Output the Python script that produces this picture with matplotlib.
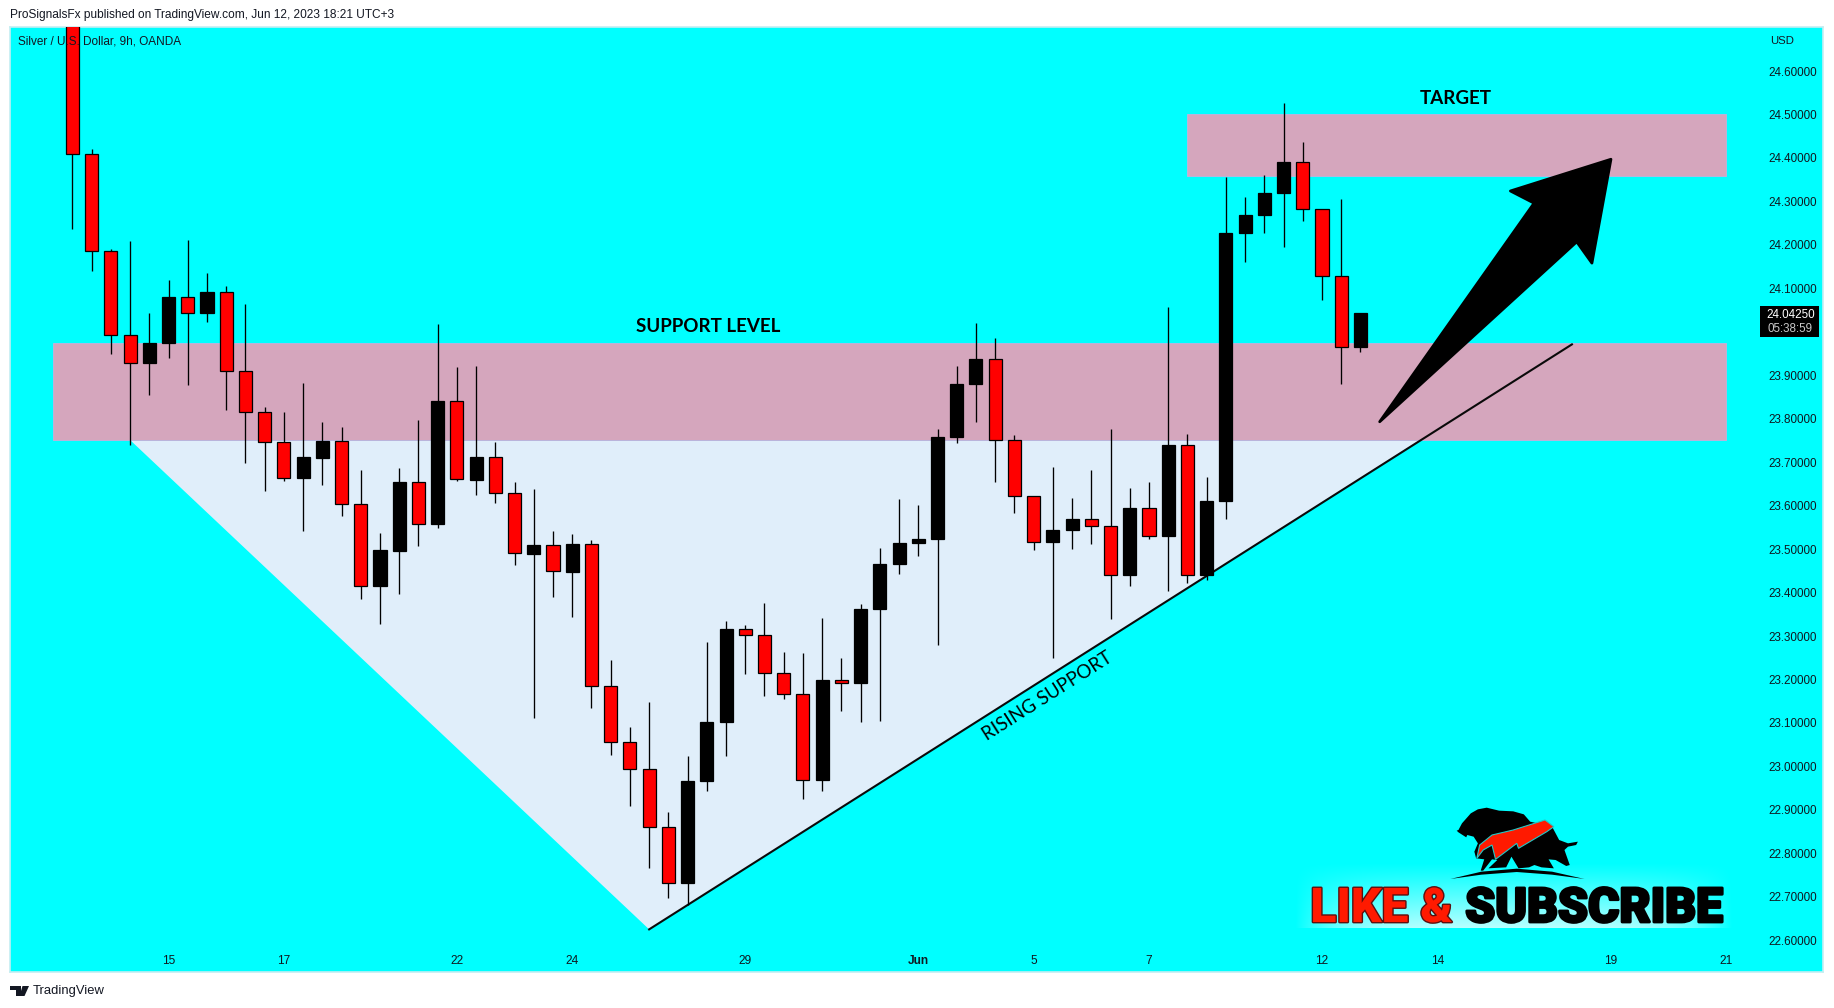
import numpy as np
import matplotlib
matplotlib.use('Agg')
import matplotlib.pyplot as plt
import matplotlib.patheffects as pe
from matplotlib.patches import Polygon, Rectangle

# candles (9h bars)
opens = [24.800, 24.410, 24.185, 23.992, 23.928, 23.974, 24.079, 24.043, 24.091, 23.909,
         23.815, 23.746, 23.664, 23.710, 23.748, 23.603, 23.414, 23.496, 23.654, 23.557,
         23.840, 23.660, 23.711, 23.630, 23.489, 23.509, 23.448, 23.511, 23.184, 23.057,
         22.993, 22.860, 22.731, 22.966, 23.102, 23.316, 23.302, 23.216, 23.166, 22.968,
         23.198, 23.191, 23.362, 23.466, 23.514, 23.523, 23.758, 23.880, 23.937, 23.750,
         23.622, 23.516, 23.543, 23.569, 23.554, 23.441, 23.594, 23.530, 23.739, 23.441,
         23.611, 24.227, 24.269, 24.319, 24.391, 24.282, 24.128, 23.966]
highs = [24.850, 24.420, 24.191, 24.208, 24.043, 24.119, 24.211, 24.135, 24.105, 24.064,
         23.827, 23.815, 23.882, 23.792, 23.781, 23.682, 23.537, 23.687, 23.797, 24.018,
         23.919, 23.921, 23.746, 23.654, 23.638, 23.542, 23.535, 23.520, 23.245, 23.091,
         23.148, 22.895, 23.024, 23.286, 23.335, 23.325, 23.376, 23.263, 23.261, 23.341,
         23.249, 23.374, 23.503, 23.615, 23.602, 23.776, 23.921, 24.020, 23.986, 23.763,
         23.622, 23.689, 23.618, 23.682, 23.776, 23.641, 23.654, 24.057, 23.765, 23.666,
         24.356, 24.310, 24.361, 24.527, 24.437, 24.282, 24.306, 24.043]
lows = [24.237, 24.141, 23.950, 23.740, 23.855, 23.940, 23.878, 24.023, 23.821, 23.699,
        23.634, 23.657, 23.542, 23.648, 23.577, 23.386, 23.328, 23.397, 23.506, 23.549,
        23.657, 23.625, 23.607, 23.464, 23.112, 23.390, 23.344, 23.135, 23.027, 22.910,
        22.767, 22.698, 22.681, 22.944, 23.025, 23.213, 23.163, 23.156, 22.926, 22.944,
        23.128, 23.101, 23.105, 23.443, 23.484, 23.280, 23.743, 23.793, 23.655, 23.584,
        23.499, 23.250, 23.501, 23.512, 23.340, 23.416, 23.524, 23.404, 23.423, 23.430,
        23.570, 24.161, 24.227, 24.196, 24.255, 24.074, 23.881, 23.954]
closes = [24.410, 24.185, 23.992, 23.928, 23.974, 24.079, 24.043, 24.091, 23.909, 23.815,
          23.746, 23.664, 23.711, 23.748, 23.603, 23.414, 23.498, 23.654, 23.557, 23.841,
          23.661, 23.711, 23.630, 23.490, 23.509, 23.449, 23.511, 23.184, 23.057, 22.993,
          22.860, 22.731, 22.966, 23.102, 23.316, 23.302, 23.216, 23.166, 22.968, 23.198,
          23.191, 23.362, 23.466, 23.514, 23.523, 23.758, 23.880, 23.937, 23.750, 23.622,
          23.516, 23.543, 23.569, 23.554, 23.441, 23.594, 23.530, 23.739, 23.441, 23.611,
          24.227, 24.269, 24.319, 24.391, 24.282, 24.128, 23.966, 24.0425]

# 24.00000 is hidden behind the last price tag
price_ticks = [22.6, 22.7, 22.8, 22.9, 23.0, 23.1, 23.2, 23.3, 23.4, 23.5,
               23.6, 23.7, 23.8, 23.9, 24.1, 24.2, 24.3, 24.4, 24.5, 24.6]
date_ticks = [5, 11, 20, 26, 35, 44, 50, 56, 65, 71, 80, 86]
date_labels = ['15', '17', '22', '24', '29', 'Jun', '5', '7', '12', '14', '19', '21']

support_zone = [-1, 86, 23.751, 23.974]
target_zone = [58, 86, 24.359, 24.500]
valley_x = [3, 30, 70.1]
valley_y = [23.751, 22.625, 23.751]
rising_x = [30, 78]
rising_y = [22.625, 23.971]
arrow_x = [68.0, 76.03, 74.8, 80.03, 79.04, 78.25]
arrow_y = [23.793, 24.296, 24.324, 24.397, 24.158, 24.207]

# logo outlines, in zoomed crop units
bull_x = [500, 505, 515, 540, 560, 585, 620, 660, 690, 708, 770, 790, 815, 843, 838, 815, 805, 820, 810, 780, 760,
          775, 740, 720, 705, 675, 655, 640, 590, 615, 600, 575, 568, 578, 555, 550, 560, 548, 530, 527, 505]
bull_y = [152, 150, 130, 100, 88, 83, 92, 94, 103, 125, 140, 180, 190, 185, 195, 200, 210, 255, 258, 240, 238,
          265, 262, 255, 262, 265, 230, 262, 265, 240, 238, 272, 272, 238, 235, 215, 190, 170, 165, 172, 157]
swoosh_x = [557, 565, 600, 660, 750, 775, 755, 675, 670, 610, 600, 575]
swoosh_y = [235, 195, 165, 150, 120, 140, 155, 205, 190, 238, 195, 210]
ground_x = [482, 570, 670, 770, 862, 770, 670, 570]
ground_y = [297, 275, 266, 275, 297, 284, 276, 284]

SMALL = ['Liberation Sans', 'DejaVu Sans']
LABEL = ['Lato', 'Liberation Sans']
W, H = 1834, 1008
L, R, T, B = 10, 1823, 27, 972

fig = plt.figure(figsize=(W / 100, H / 100), dpi=100, facecolor='white')
ax = fig.add_axes([L / W, 1 - B / H, (R - L) / W, (B - T) / H])
ax.set_facecolor('#00ffff')
ax.set_xlim(-3.246, 91.06)
ax.set_ylim(22.5269, 24.7013)
for s in ax.spines.values():
    s.set_color('#c4eef2')
    s.set_linewidth(1.2)

ax.add_patch(Polygon(np.column_stack([valley_x, valley_y]), fc='#e0eefa', ec='none', zorder=1))
for z in (support_zone, target_zone):
    ax.add_patch(Rectangle((z[0], z[2]), z[1] - z[0], z[3] - z[2], fc='#d5a6bd', ec='#b9b4dc', lw=0.7, zorder=2))
ax.plot(rising_x, rising_y, color='#0a0a0a', lw=1.5, zorder=3)

x = np.arange(len(opens))
o = np.array(opens)
c = np.array(closes)
colors = ['black' if cl > op else '#ff0000' for op, cl in zip(o, c)]
ax.vlines(x, lows, highs, color='black', lw=0.95, zorder=4)
ax.bar(x, np.abs(c - o), bottom=np.minimum(o, c), width=0.68, color=colors, edgecolor='black', lw=0.9, zorder=5)

ax.add_patch(Polygon(np.column_stack([arrow_x, arrow_y]), fc='black', ec='black', lw=2, joinstyle='round', zorder=6))

ax.yaxis.tick_right()
ax.set_yticks(price_ticks)
ax.set_yticklabels([f'{p:.5f}' for p in price_ticks], fontsize=8.4, family=SMALL, color='#101820')
ax.tick_params(axis='y', length=0, pad=-39.6)
ax.set_xticks(date_ticks)
ax.set_xticklabels(date_labels, fontsize=8.6, family=SMALL, color='#101820')
ax.tick_params(axis='x', length=0, pad=-12.5)
ax.xaxis.get_ticklabels()[5].set_fontweight('bold')

ax.text(33.06, 24.012, 'SUPPORT LEVEL', fontsize=13.5, weight='bold', family=LABEL, ha='center', va='center', zorder=7)
ax.text(71.97, 24.5376, 'TARGET', fontsize=13.5, weight='bold', family=LABEL, ha='center', va='center', zorder=7)
ax.text(50.7, 23.162, 'RISING SUPPORT', fontsize=13.5, family=LABEL, rotation=32.4, rotation_mode='anchor',
        ha='center', va='center', zorder=7)

# overlay in pixel units for header, footer, price tag and logo
ov = fig.add_axes([0, 0, 1, 1], zorder=10)
ov.patch.set_alpha(0)
ov.axis('off')

gy, gx = np.mgrid[0:1:70j, -1:1:440j]
glow = np.ones(gx.shape + (4,))
glow[..., 3] = 0.72 * (1 - np.abs(gx) ** 4) * gy ** 1.1
ov.imshow(glow, extent=[1295, 1733, 928, 862], aspect='auto', zorder=1)

ov.text(10, 15, 'ProSignalsFx published on TradingView.com, Jun 12, 2023 18:21 UTC+3', fontsize=8.55,
        family=SMALL, color='#131722', va='center')
ov.text(18, 42, 'Silver / U.S. Dollar, 9h, OANDA', fontsize=8.5, family=SMALL, color='#131722', va='center')
ov.text(1770, 41, 'USD', fontsize=8.2, family=SMALL, color='#131722', va='center')

ov.add_patch(Rectangle((1760, 306), 59, 31, fc='black', ec='none', zorder=2))
ov.text(1790.5, 314.5, '24.04250', fontsize=8.4, family=SMALL, color='white', ha='center', va='center', zorder=3)
ov.text(1790.5, 328.5, '05:38:59', fontsize=8.4, family=SMALL, color='#c8c8c8', ha='center', va='center', zorder=3)

# TradingView mark and name
ov.add_patch(Polygon([(10, 986), (21, 986), (21, 996), (16, 996), (16, 990), (10, 990)], fc='#131722', ec='none'))
ov.add_patch(Polygon([(22.5, 986), (29, 986), (24.5, 996), (19.5, 996)], fc='#131722', ec='none'))
ov.text(33, 991, 'TradingView', fontsize=9.4, family=SMALL, color='#131722', va='center')


def logo(xs, ys):
    return np.column_stack([1280 + np.array(xs) / 2.83, 780 + np.array(ys) / 3])


ov.add_patch(Polygon(logo(bull_x, bull_y), fc='black', ec='none', zorder=4))
ov.add_patch(Polygon(logo(swoosh_x, swoosh_y), fc='#ff1a00', ec='#22c8c8', lw=0.8, zorder=5))
ov.add_patch(Polygon(logo(ground_x, ground_y), fc='black', ec='none', zorder=4))

stroke_red = [pe.withStroke(linewidth=2, foreground='#5a1010')]
stroke_blk = [pe.withStroke(linewidth=2, foreground='black')]
ov.text(1381.5, 909, 'LIKE &', fontsize=34.5, weight='black', family=['Roboto', 'Liberation Sans'], color='#ff1a00',
        ha='center', va='center', path_effects=stroke_red, zorder=5)
ov.text(1594, 909, 'SUBSCRIBE', fontsize=34.5, weight='black', family=['Roboto', 'Liberation Sans'], color='black',
        ha='center', va='center', path_effects=stroke_blk, zorder=5)

ov.set_xlim(0, W)
ov.set_ylim(H, 0)

fig.savefig('out.png', dpi=100, facecolor='white')
